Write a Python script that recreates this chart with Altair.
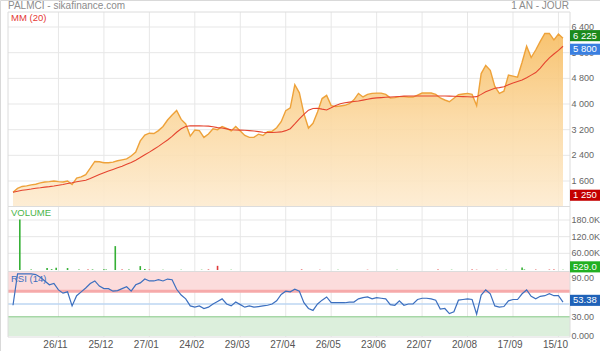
import altair as alt
import pandas as pd

# ---------------- data ----------------
# one value every 2 trading days, t = 0, 2, ..., 242
price = [1250,1370,1430,1450,1480,1500,1540,1570,1580,1600,
         1580,1570,1600,1490,1690,1730,1800,2000,2210,2200,
         2170,2170,2190,2230,2260,2290,2380,2500,2850,3030,
         3090,3080,3170,3300,3500,3657,3800,3520,3380,3000,
         3190,3170,2960,3065,3230,3200,3300,3240,3160,3300,
         3160,3020,2960,2960,3060,3020,3140,3150,3260,3450,
         3790,3880,4600,4350,3700,3250,3400,3750,4170,4270,
         3950,3920,3940,3960,4010,4130,4330,4220,4300,4330,
         4340,4340,4300,4190,4200,4230,4230,4218,4218,4280,
         4343,4343,4343,4300,4187,4125,4070,4180,4290,4310,
         4330,4300,3950,4950,5200,5050,4550,4330,4400,4900,
         4870,4840,5300,5800,5450,5683,5950,6200,6200,6000,
         6180,6050]
ma20 = [1250,1280,1310,1330,1350,1375,1390,1410,1425,1444,
        1470,1490,1520,1545,1575,1600,1625,1680,1740,1800,
        1860,1910,1960,2010,2060,2120,2180,2250,2330,2420,
        2500,2590,2680,2780,2880,2990,3120,3230,3300,3320,
        3320,3320,3315,3310,3290,3265,3250,3225,3200,3190,
        3185,3180,3170,3160,3140,3120,3110,3110,3120,3130,
        3170,3230,3380,3540,3680,3810,3860,3870,3840,3815,
        3880,3950,4010,4040,4060,4080,4093,4120,4150,4175,
        4190,4200,4210,4218,4225,4235,4245,4250,4250,4250,
        4250,4250,4250,4250,4250,4250,4245,4240,4235,4230,
        4225,4218,4230,4300,4380,4440,4490,4510,4540,4600,
        4655,4700,4745,4820,4900,4980,5120,5290,5440,5560,
        5670,5800]
rsi14 = [48,97,97,97,97,96,92,86,80,82,
         72,67,69,47,63,69,75,82,86,78,
         74,74,70,71,74,77,70,80,83,89,
         86,86,88,86,89,88,73,64,58,47,
         45,47,43,45,50,54,58,50,47,53,
         49,45,47,45,46,47,48,50,55,65,
         70,69,73,70,52,43,40,50,56,61,
         52,52,52,52,53,53,58,60,61,58,
         60,59,58,49,48,55,48,50,50,57,
         59,59,58,56,42,43,35,38,56,57,
         58,57,34,64,72,66,47,45,46,55,
         57,57,66,72,62,58,62,63,66,63,
         63,53]
t_days = [2 * k for k in range(len(price))]

vol_t = [3, 8, 15, 17, 19, 24, 29, 33, 35, 40, 41, 45, 48, 51, 56, 58, 60, 66, 74, 83, 86, 90, 96,
         127, 135, 143, 156, 169, 187, 193, 202, 204, 213, 217, 224, 225, 230, 236, 238, 242]
vol_v = [182000, 2000, 7000, 3000, 8000, 7000, 1500, 1500, 2000, 2500, 2000, 86000, 1500, 1500, 14000,
         4000, 1500, 1000, 1000, 1000, 2000, 15000, 1000,
         2000, 1000, 1000, 1000, 1000, 1500, 1000, 1500, 1000, 1000, 1000, 9000, 2000, 1500, 1500, 2000, 529]
vol_dir = ["up", "up", "up", "up", "up", "up", "up", "down", "up", "up", "up", "up", "down", "up", "up",
           "up", "down", "up", "up", "up", "down", "down", "up",
           "down", "down", "up", "down", "up", "down", "up", "down", "down", "down", "up", "up", "up",
           "down", "down", "down", "up"]

date_ticks = [20, 40, 60, 80, 100, 120, 140, 160, 180, 200, 220, 240]
date_labels = ["26/11", "25/12", "27/01", "24/02", "29/03", "27/04", "26/05", "23/06",
               "22/07", "20/08", "17/09", "15/10"]
price_ticks = [1600, 2400, 3200, 4000, 4800, 5600, 6400]
price_tick_labels = ["1 600", "2 400", "3 200", "4 000", "4 800", "5 600", "6 400"]
vol_ticks = [60000, 120000, 180000]
vol_tick_labels = ["60.00K", "120.0K", "180.0K"]
rsi_ticks = [0, 30, 90]
rsi_tick_labels = ["0.000", "30.00", "90.00"]

price_marks = [6225, 5800, 1250]
price_mark_labels = ["6 225", "5 800", "1 250"]
price_mark_colors = ["#1c8a1c", "#3a7fe0", "#c40000"]

FONT = "Liberation Sans"
GRID = "#e7e7e7"
TICK_FS = 9

# ---------------- scales ----------------
xs = alt.Scale(domain=[0, 242], range=[8, 568], nice=False, zero=False)
ps = alt.Scale(domain=[821, 6868], range=[206, 12], nice=False, zero=False)
vs = alt.Scale(domain=[0, 226800], range=[270, 207], nice=False, zero=False)
rs = alt.Scale(domain=[0, 100], range=[336, 272], nice=False, zero=False)

df = pd.DataFrame({"t": t_days, "price": price, "ma": ma20, "rsi": rsi14})
vdf = pd.DataFrame({"t": vol_t, "v": vol_v, "dir": vol_dir})
one = pd.DataFrame({"a": [0]})

X = alt.X("t:Q", scale=xs, axis=None)

# vertical grid
vgrid = alt.Chart(pd.DataFrame({"t": date_ticks})).mark_rule(color=GRID).encode(
    x=X, y=alt.value(12), y2=alt.value(337))

# panel frames
frames = []
for y1, y2 in [(12, 206.5), (206.5, 271.5), (271.5, 337)]:
    frames.append(alt.Chart(one).mark_rect(fill=None, stroke="#dcdcdc", strokeWidth=1).encode(
        x=alt.value(8), x2=alt.value(570), y=alt.value(y1), y2=alt.value(y2)))

# price grid
pgrid = alt.Chart(pd.DataFrame({"v": price_ticks})).mark_rule(color=GRID).encode(
    y=alt.Y("v:Q", scale=ps, axis=None), x=alt.value(8), x2=alt.value(570))

grad = alt.Gradient(gradient="linear",
                    stops=[alt.GradientStop(color="#f7bd62", offset=0),
                           alt.GradientStop(color="#fbd8a0", offset=0.5),
                           alt.GradientStop(color="#fdebd0", offset=1)],
                    x1=1, x2=1, y1=0, y2=1)
area = alt.Chart(df).mark_area(
    color=grad, fillOpacity=0.9,
    line=alt.OverlayMarkDef(color="#eea23a", strokeWidth=1.4)).encode(
    x=X, y=alt.Y("price:Q", scale=ps, axis=None), y2=alt.datum(821))

ma_line = alt.Chart(df).mark_line(color="#e5442f", strokeWidth=1.1).encode(
    x=X, y=alt.Y("ma:Q", scale=ps, axis=None))

# volume
vgrid2 = alt.Chart(pd.DataFrame({"v": vol_ticks})).mark_rule(color=GRID).encode(
    y=alt.Y("v:Q", scale=vs, axis=None), x=alt.value(8), x2=alt.value(570))
vbars = alt.Chart(vdf).mark_bar(size=1.6).encode(
    x=X, y=alt.Y("v:Q", scale=vs, axis=None),
    color=alt.Color("dir:N", scale=alt.Scale(domain=["up", "down"], range=["#35b035", "#e03a3a"]),
                    legend=None))

# RSI bands
bands = alt.Chart(pd.DataFrame({"lo": [70, 0], "hi": [100, 30], "c": ["#fcdcdc", "#dcefdc"]})).mark_rect().encode(
    y=alt.Y("lo:Q", scale=rs, axis=None), y2="hi:Q", x=alt.value(8), x2=alt.value(570),
    color=alt.Color("c:N", scale=None))
rlines = alt.Chart(pd.DataFrame({"v": [70, 30, 50], "c": ["#f6aaaa", "#86c886", "#bcd6f2"],
                                 "w": [3, 1, 1.5]})).mark_rule().encode(
    y=alt.Y("v:Q", scale=rs, axis=None), x=alt.value(8), x2=alt.value(570),
    color=alt.Color("c:N", scale=None), strokeWidth=alt.StrokeWidth("w:Q", scale=None))
rsi_line = alt.Chart(df).mark_line(color="#3c6fbf", strokeWidth=1.2).encode(
    x=X, y=alt.Y("rsi:Q", scale=rs, axis=None))

# tick labels
def tick_text(vals, labs, scale):
    return alt.Chart(pd.DataFrame({"v": vals, "lab": labs})).mark_text(
        align="left", baseline="middle", font=FONT, fontSize=TICK_FS, color="#666666").encode(
        y=alt.Y("v:Q", scale=scale, axis=None), x=alt.value(571.5), text="lab:N")

ptext = tick_text(price_ticks, price_tick_labels, ps)
vtext = tick_text(vol_ticks, vol_tick_labels, vs)
rtext = tick_text(rsi_ticks, rsi_tick_labels, rs)

dtext = alt.Chart(pd.DataFrame({"t": date_ticks, "lab": date_labels})).mark_text(
    baseline="middle", font=FONT, fontSize=10, color="#555555", dx=-3).encode(
    x=X, y=alt.value(345), text="lab:N")

BOX = "M-1,-0.37H1V0.37H-1Z"

def value_box(vals, labs, cols, scale, yoff):
    d = pd.DataFrame({"v": vals, "lab": labs, "c": cols})
    box = alt.Chart(d).mark_point(shape=BOX, size=900, filled=True, opacity=1,
                                  strokeWidth=0, yOffset=yoff).encode(
        y=alt.Y("v:Q", scale=scale, axis=None), x=alt.value(585),
        color=alt.Color("c:N", scale=None))
    txt = alt.Chart(d).mark_text(align="left", baseline="middle", font=FONT, fontSize=9.5,
                                 color="white", yOffset=yoff).encode(
        y=alt.Y("v:Q", scale=scale, axis=None), x=alt.value(573), text="lab:N")
    return [box, txt]

pboxes = value_box(price_marks, price_mark_labels, price_mark_colors, ps, 3)
vboxes = value_box([529], ["529.0"], ["#22b022"], vs, -3)
rboxes = value_box([53.38], ["53.38"], ["#1f62b8"], rs, -1.5)

def label(txt, x, y, color, size=10, align="left"):
    return alt.Chart(one).mark_text(text=txt, align=align, baseline="middle", font=FONT,
                                    fontSize=size, color=color).encode(
        x=alt.value(x), y=alt.value(y))

titles = [
    label("PALMCI - sikafinance.com", 8, 6, "#8c8c8c"),
    label("1 AN - JOUR", 569, 6, "#8c8c8c", align="right"),
    label("MM (20)", 11, 18, "#e53935", size=9.5),
    label("VOLUME", 11, 213, "#4cb54c", size=9.5),
    label("RSI (14)", 11, 279, "#3c6fbf", size=9.5),
]

layers = ([vgrid, pgrid, vgrid2, area, ma_line, bands, rlines, rsi_line, vbars]
          + frames + [ptext, vtext, rtext, dtext] + pboxes + vboxes + rboxes + titles)

chart = alt.layer(*layers).resolve_scale(y="independent", color="independent",
                                         strokeWidth="independent").properties(
    width=600, height=351, autosize=alt.AutoSizeParams(type="none"), padding=0,
    background="white"
).configure_view(stroke="#d9d9d9")

chart.save("out.html", embed_options={"renderer": "svg", "actions": False})
